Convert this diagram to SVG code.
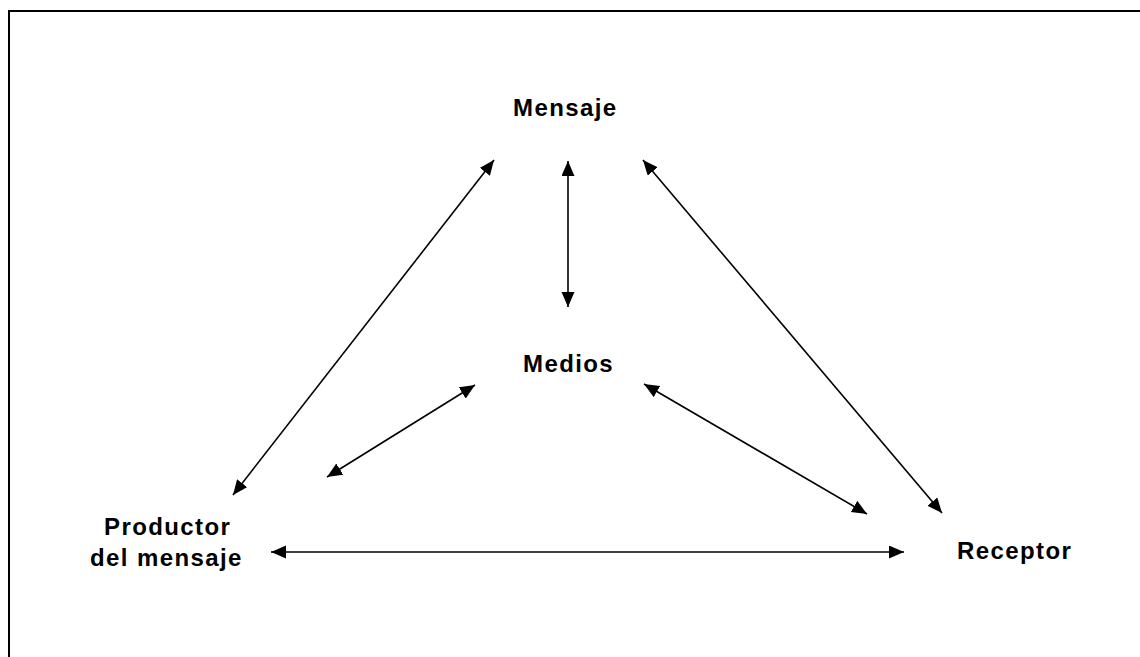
<svg xmlns="http://www.w3.org/2000/svg" width="1140" height="657" viewBox="0 0 1140 657">
<style>
.lbl{font-family:"Liberation Sans",Arial,sans-serif;font-weight:bold;font-size:24px;letter-spacing:1.4px;fill:#000}
.con{stroke:#000;stroke-width:1.6;fill:none;marker-start:url(#ah);marker-end:url(#ah)}
</style>
<defs>
<marker id="ah" markerUnits="userSpaceOnUse" markerWidth="16" markerHeight="14" refX="15" refY="6.5" orient="auto-start-reverse">
<path d="M0,0 L15,6.5 L0,13 z" fill="#000"/>
</marker>
</defs>
<rect x="0" y="0" width="1140" height="657" fill="#fff"/>
<rect x="9" y="11" width="1200" height="700" fill="none" stroke="#000" stroke-width="2"/>
<g id="connectors">
<line class="con" x1="494" y1="160" x2="233" y2="495"/>
<line class="con" x1="568" y1="161" x2="568" y2="307"/>
<line class="con" x1="643" y1="160" x2="942" y2="513"/>
<line class="con" x1="475" y1="385" x2="327" y2="477"/>
<line class="con" x1="644" y1="384" x2="867" y2="514"/>
<line class="con" x1="271" y1="552" x2="904" y2="552"/>
</g>
<g id="mensaje"><text class="lbl" x="513" y="116">Mensaje</text></g>
<g id="medios"><text class="lbl" x="523" y="372">Medios</text></g>
<g id="productor"><text class="lbl" x="104" y="535">Productor</text><text class="lbl" x="90" y="566">del mensaje</text></g>
<g id="receptor"><text class="lbl" x="957" y="559">Receptor</text></g>
</svg>
